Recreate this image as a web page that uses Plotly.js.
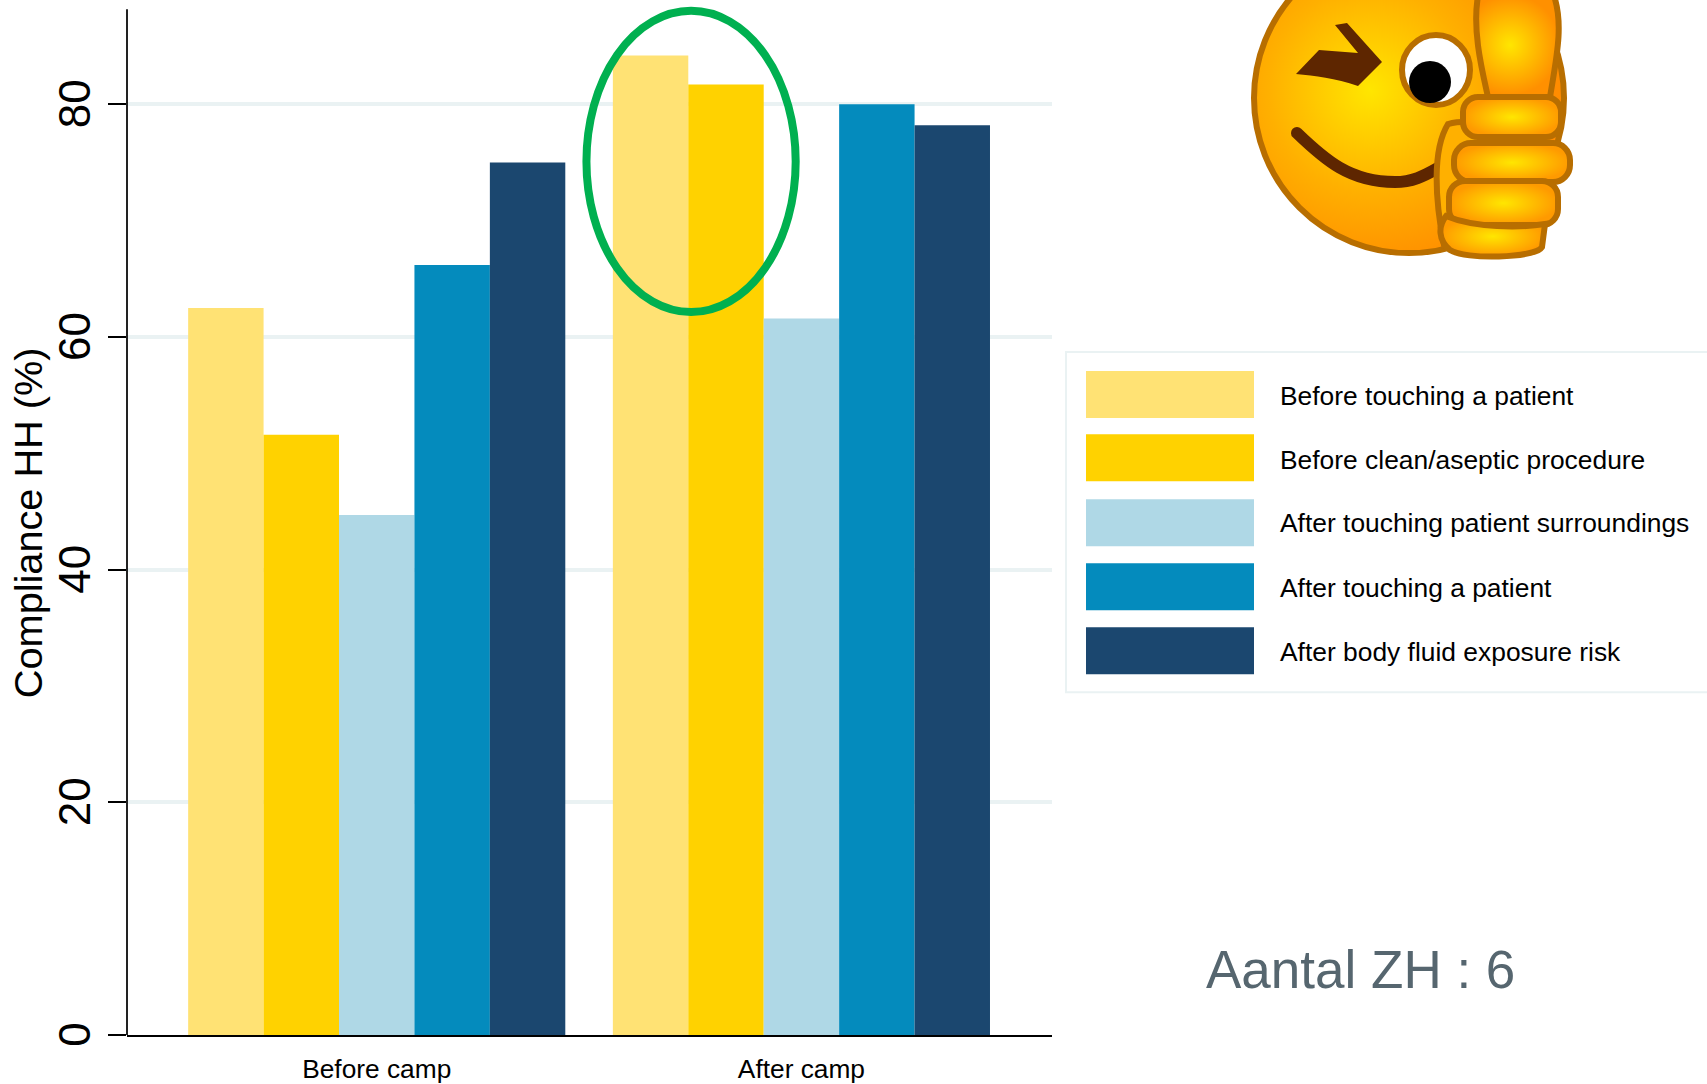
<!DOCTYPE html>
<html><head><meta charset="utf-8">
<script src="https://cdn.plot.ly/plotly-3.0.1.min.js"></script>
<style>html,body{margin:0;padding:0;background:#fff;overflow:hidden}</style>
</head><body><div id="chart" style="width:1707px;height:1084px"></div>
<script>
const categories = ["Before camp", "After camp"];
const seriesNames = ["Before touching a patient","Before clean/aseptic procedure","After touching patient surroundings","After touching a patient","After body fluid exposure risk"];
const seriesColors = ["#FFE274","#FFD200","#AFD8E6","#048BBD","#1B476F"];
const beforeTouching = [62.5, 84.2];
const beforeClean = [51.6, 81.7];
const afterSurroundings = [44.7, 61.6];
const afterTouching = [66.2, 80.0];
const afterFluid = [75.0, 78.2];
const seriesValues = [beforeTouching, beforeClean, afterSurroundings, afterTouching, afterFluid];
const yTicks = [0,20,40,60,80];
const legendTextY = [396,460,523,588,652];

const W=1707,H=1084,L=127,R=1052,T=0,B=1034.7;
const px=x=>(x-L)/(R-L), py=y=>(B-y)/(B-T);

const smiley = `<svg xmlns="http://www.w3.org/2000/svg" width="420" height="280" viewBox="0 0 420 280">
<defs>
<radialGradient id="f" gradientUnits="userSpaceOnUse" cx="170" cy="90" r="185"><stop offset="0" stop-color="#FFE600"/><stop offset=".55" stop-color="#FFB000"/><stop offset="1" stop-color="#FF8C00"/></radialGradient>
<radialGradient id="t" gradientUnits="userSpaceOnUse" cx="310" cy="45" r="50"><stop offset="0" stop-color="#FFE600"/><stop offset="1" stop-color="#FF9000"/></radialGradient>
<radialGradient id="a"><stop offset="0" stop-color="#FFE600"/><stop offset="1" stop-color="#FF9A00"/></radialGradient>
</defs>
<circle cx="209" cy="98" r="155" fill="url(#f)" stroke="#B86E00" stroke-width="6"/>
<path d="M97 133 C 125 160 150 182 195 182 C 212 182 224 176 238 168" fill="none" stroke="#5E2600" stroke-width="12" stroke-linecap="round"/>
<path d="M135 25 L147 23 L182 62 L158 86 C 135 78 115 76 96 74 L119 50 L158 53 Z" fill="#5E2600"/>
<g stroke="#B86E00" stroke-width="6">
<ellipse cx="236" cy="70" rx="34" ry="35" fill="#fff"/>
<circle cx="230" cy="82" r="21" fill="#000" stroke="none"/>
<path d="M278 -4 C 272 30 282 70 288 97 L350 97 C 356 60 364 25 354 -4 Z" fill="url(#t)"/>
<path d="M248 124 C 262 120 285 122 300 125 L300 240 L244 245 C 235 200 232 150 248 124Z" fill="#FFB000"/>
<rect x="263" y="97" width="98" height="40" rx="15" fill="url(#a)"/>
<rect x="254" y="143" width="116" height="39" rx="17" fill="url(#a)"/>
<rect x="249" y="181" width="109" height="44" rx="16" fill="url(#a)"/>
<path d="M246 216 C 275 228 320 228 345 224 L342 247 C 335 258 265 260 250 250 C 238 240 238 226 246 216Z" fill="url(#a)"/>
</g>
</svg>`;

const traces = seriesNames.map((n,i)=>({type:"bar",name:n,x:categories,y:seriesValues[i],
  marker:{color:seriesColors[i],line:{width:0}},hoverinfo:"x+y+name"}));

const shapes = [
 {type:"line",xref:"paper",yref:"y",x0:0,x1:0,y0:0,y1:88.17,line:{color:"#222",width:2},layer:"above"},
 {type:"rect",xref:"paper",yref:"paper",x0:px(1066),x1:px(1720),y0:py(352),y1:py(692),line:{color:"#EAF2F3",width:2},fillcolor:"#fff"},
 {type:"circle",xref:"x",yref:"y",x0:0.4938,x1:0.9865,y0:62.14,y1:88.04,line:{color:"#00B050",width:8},layer:"above"}
];
const swatchTop=[371,434,499,563,627];
seriesColors.forEach((c,i)=>shapes.push({type:"rect",xref:"paper",yref:"paper",x0:px(1086),x1:px(1254),y0:py(swatchTop[i]),y1:py(swatchTop[i]+47),fillcolor:c,line:{width:0}}));

const annotations = seriesNames.map((n,i)=>({xref:"paper",yref:"paper",x:px(1278),y:py(legendTextY[i]),xanchor:"left",yanchor:"middle",
  text:n,showarrow:false,font:{family:"Liberation Sans",size:26.4,color:"#000"}}));
annotations.push({xref:"paper",yref:"paper",x:px(1360),y:py(969),xanchor:"center",yanchor:"middle",text:"Aantal ZH : 6",showarrow:false,font:{family:"Liberation Sans",size:53,color:"#56666F"}});
annotations.push({xref:"paper",yref:"paper",x:px(27.5),y:py(522.5),xanchor:"center",yanchor:"middle",textangle:-90,text:"Compliance HH (%)",showarrow:false,font:{family:"Liberation Sans",size:39.7,color:"#000"}});

Plotly.newPlot("chart",traces,{
 width:W,height:H,autosize:false,showlegend:false,
 margin:{l:L,r:W-R,t:T,b:H-B,pad:0},
 paper_bgcolor:"#fff",plot_bgcolor:"#fff",
 barmode:"group",bargap:0.112,bargroupgap:0,
 font:{family:"Liberation Sans",color:"#000"},
 xaxis:{type:"category",range:[-0.588,1.59],showgrid:false,showline:true,linecolor:"#000",linewidth:2,ticks:"",tickfont:{size:26.3},zeroline:false,fixedrange:true,ticklabelstandoff:9},
 yaxis:{range:[0,88.97],tickmode:"array",tickvals:yTicks,ticktext:yTicks.map(v=>v+"\u00A0"),tickangle:-90,tickfont:{size:44},ticks:"outside",ticklen:18,tickwidth:2,tickcolor:"#000",
   showline:false,showgrid:true,gridcolor:"#EAF2F3",gridwidth:4,zeroline:false,fixedrange:true},
 shapes,annotations,
 images:[{source:"data:image/svg+xml;charset=utf-8,"+encodeURIComponent(smiley),xref:"paper",yref:"paper",x:px(1200),y:py(0),sizex:420/(R-L),sizey:280/(B-T),xanchor:"left",yanchor:"top",sizing:"stretch",layer:"above"}]
},{displayModeBar:false});
</script></body></html>
